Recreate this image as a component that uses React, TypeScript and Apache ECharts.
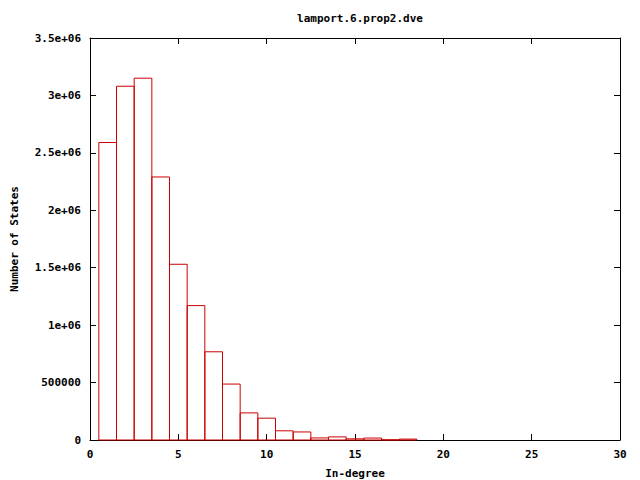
import React, { useEffect, useRef } from "react";
import * as echarts from "echarts";

const title = "lamport.6.prop2.dve";
const xLabel = "In-degree";
const yLabel = "Number of States";
const inDegrees = [1, 2, 3, 4, 5, 6, 7, 8, 9, 10, 11, 12, 13, 14, 15, 16, 17, 18];
const stateCounts = [
  2590000, 3080000, 3150000, 2290000, 1530000, 1170000, 768000, 487000, 236000,
  190000, 80000, 70000, 18000, 27000, 10000, 17000, 2000, 8000,
];

const FONT = "DejaVu Sans Mono";

function fmtY(v: number): string {
  if (v >= 1e6) return `${+(v / 1e6).toFixed(2)}e+06`;
  return String(v);
}

export default function App() {
  const ref = useRef<HTMLDivElement>(null);
  useEffect(() => {
    if (!ref.current) return;
    const chart = echarts.init(ref.current, undefined, { renderer: "svg" });
    const data = inDegrees.map((x, i) => [x, stateCounts[i]]);
    const axisLine = { show: true, onZero: false, lineStyle: { color: "#000", width: 1 } };
    const tick = { show: true, inside: true, length: 6, lineStyle: { color: "#000" } };
    const labelStyle = { color: "#000", fontFamily: FONT, fontSize: 11, fontWeight: "bold" as const };
    chart.setOption({
      animation: false,
      backgroundColor: "#fff",
      title: {
        text: title,
        left: 355,
        textAlign: "center",
        top: 8,
        textStyle: { ...labelStyle, fontSize: 11 },
      },
      grid: {
        left: 90,
        right: 20,
        top: 38,
        bottom: 40,
        containLabel: false,
        outerBoundsMode: "none",
      },
      xAxis: [
        {
          type: "value",
          position: "bottom",
          min: 0,
          max: 30,
          interval: 5,
          axisLine,
          axisTick: tick,
          splitLine: { show: false },
          axisLabel: { ...labelStyle, margin: 9 },
          name: xLabel,
          nameLocation: "middle",
          nameGap: 28,
          nameTextStyle: labelStyle,
        },
        {
          type: "value",
          position: "top",
          min: 0,
          max: 30,
          interval: 5,
          axisLine,
          axisTick: tick,
          splitLine: { show: false },
          axisLabel: { show: false },
        },
      ],
      yAxis: [
        {
          type: "value",
          position: "left",
          min: 0,
          max: 3500000,
          interval: 500000,
          axisLine,
          axisTick: tick,
          splitLine: { show: false },
          axisLabel: { ...labelStyle, margin: 9, formatter: fmtY },
          name: yLabel,
          nameLocation: "middle",
          nameGap: 70,
          nameRotate: 90,
          nameTextStyle: labelStyle,
        },
        {
          type: "value",
          position: "right",
          min: 0,
          max: 3500000,
          interval: 500000,
          axisLine,
          axisTick: tick,
          splitLine: { show: false },
          axisLabel: { show: false },
        },
      ],
      series: [
        {
          type: "custom",
          xAxisIndex: 0,
          yAxisIndex: 0,
          data,
          renderItem: (params: any, api: any) => {
            const x = api.value(0);
            const y = api.value(1);
            const p0 = api.coord([x - 0.5, 0]);
            const p1 = api.coord([x + 0.5, y]);
            return {
              type: "rect",
              shape: { x: p0[0], y: p1[1], width: p1[0] - p0[0], height: p0[1] - p1[1] },
              style: { fill: "none", stroke: "#cc0000", lineWidth: 1 },
            };
          },
        },
      ],
    });
    return () => chart.dispose();
  }, []);
  return <div ref={ref} style={{ width: 640, height: 480, position: "absolute", left: 0, top: 0 }} />;
}
